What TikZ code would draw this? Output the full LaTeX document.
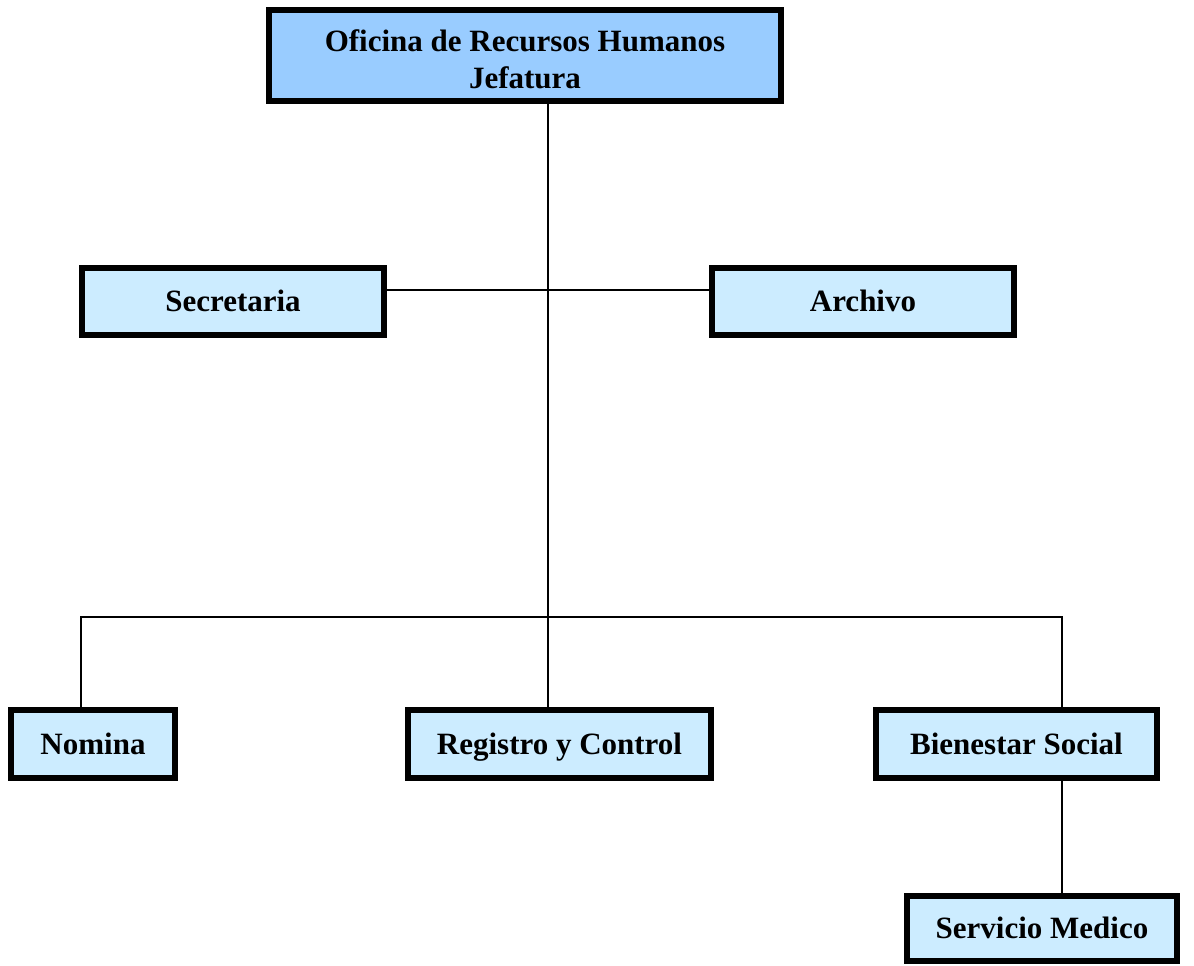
\documentclass[tikz,border=0pt]{standalone}
\usepackage{fontspec}
\setmainfont{Liberation Serif}
\usetikzlibrary{backgrounds}
\definecolor{topfill}{HTML}{99CCFF}
\definecolor{boxfill}{HTML}{CCECFF}
\begin{document}
\begin{tikzpicture}[x=1pt,y=-1pt,
  unitbox/.style={draw=black, line width=6.5pt, fill=boxfill, inner sep=0pt,
    align=center, font=\bfseries\fontsize{31}{37}\selectfont, text=black},
  oneline/.style={text height=24pt, text depth=4pt},
  conn/.style={draw=black, line width=1.3pt}]
\useasboundingbox (0,0) rectangle (1194,966);
\node[unitbox, fill=topfill, minimum width=512pt, minimum height=91pt] (top) at (525,55.5) {\rule{0pt}{30pt}Oficina de Recursos Humanos\\Jefatura};
\node[unitbox, oneline, minimum width=302pt, minimum height=67pt] (sec) at (233,301.5) {Secretaria};
\node[unitbox, oneline, minimum width=302pt, minimum height=67pt] (arc) at (863,301.5) {Archivo};
\node[unitbox, oneline, minimum width=164pt, minimum height=68pt] (nom) at (93,744) {Nomina};
\node[unitbox, oneline, minimum width=303pt, minimum height=68pt] (reg) at (559.5,744) {Registro y Control};
\node[unitbox, oneline, minimum width=281pt, minimum height=68pt] (bien) at (1016.5,744) {Bienestar Social};
\node[unitbox, oneline, minimum width=270pt, minimum height=65pt] (serv) at (1042,928.5) {Servicio Medico};
\coordinate (bus) at (548,617);
\coordinate (mid) at (548,290);
\coordinate (bl) at (81,617);
\coordinate (br) at (1062,617);
\begin{scope}[on background layer]
\draw[conn] (top.south -| bus) -- (bus);
\draw[conn] (sec.east |- mid) -- (arc.west |- mid);
\draw[conn] (nom.north -| bl) -- (bl) -- (br) -- (bien.north -| br);
\draw[conn] (bus) -- (reg.north -| bus);
\draw[conn] (bien.south -| br) -- (serv.north -| br);
\end{scope}
\end{tikzpicture}
\end{document}
